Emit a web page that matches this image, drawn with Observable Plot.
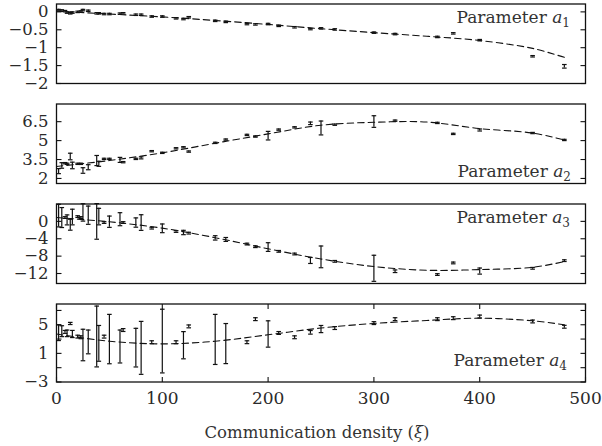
<!DOCTYPE html>
<html>
<head>
<meta charset="utf-8">
<script src="https://cdn.jsdelivr.net/npm/d3@7"></script>
<script src="https://cdn.jsdelivr.net/npm/@observablehq/plot@0.6"></script>
<style>
  html, body { margin: 0; padding: 0; background: #fff; }
  #chart svg { display: block; }
</style>
</head>
<body>
<div id="chart"></div>
<script>
// Communication density ξ at which each parameter was estimated
const xi = [2, 5, 8, 10, 13, 15, 20, 23, 25, 30, 38, 40, 45, 50, 60, 63, 75, 80, 90, 100,
            113, 120, 125, 150, 160, 180, 188, 200, 210, 225, 240, 250, 263, 300, 320, 360, 375, 400, 450, 480];

// Estimated parameters and their error half-widths
const a1 = [0.05, 0.04, 0.02, -0.02, -0.04, -0.02, 0.0, 0.01, 0.05, 0.03, -0.04, -0.04, -0.06, -0.06, -0.05, -0.04, -0.08, -0.08, -0.13, -0.13,
            -0.18, -0.2, -0.15, -0.25, -0.28, -0.34, -0.35, -0.34, -0.39, -0.43, -0.48, -0.46, -0.49, -0.58, -0.62, -0.70, -0.60, -0.79, -1.24, -1.52];
const a1Err = [0.02, 0.02, 0.02, 0.02, 0.02, 0.02, 0.02, 0.02, 0.02, 0.02, 0.02, 0.02, 0.02, 0.02, 0.02, 0.02, 0.02, 0.02, 0.02, 0.02,
               0.02, 0.02, 0.02, 0.02, 0.02, 0.02, 0.02, 0.02, 0.02, 0.02, 0.02, 0.02, 0.02, 0.02, 0.02, 0.02, 0.02, 0.02, 0.02, 0.05];

const a2 = [2.58, 3.03, 3.21, 3.16, 3.74, 3.03, 3.16, 3.16, 2.63, 2.89, 3.42, 3.16, 3.55, 3.55, 3.47, 3.29, 3.55, 3.63, 4.16, 4.03,
            4.39, 4.47, 4.13, 4.82, 5.08, 5.45, 5.32, 5.39, 5.87, 6.05, 6.37, 6.0, 6.26, 6.51, 6.58, 6.40, 5.53, 5.84, 5.6, 5.05];
const a2Err = [0.2, 0.22, 0.05, 0.05, 0.26, 0.26, 0.05, 0.05, 0.22, 0.2, 0.4, 0.2, 0.05, 0.05, 0.2, 0.05, 0.05, 0.08, 0.05, 0.05,
               0.05, 0.05, 0.05, 0.05, 0.05, 0.05, 0.05, 0.34, 0.05, 0.05, 0.1, 0.55, 0.05, 0.46, 0.05, 0.05, 0.05, 0.08, 0.05, 0.05];

const a3 = [1.33, 0.88, 0.88, 0.34, -0.77, 1.0, 1.1, 0.88, 2.06, 1.42, -0.01, 1.1, -0.27, -0.08, 0.5, -0.27, -0.27, -0.27, -1.56, -1.6,
            -2.33, -2.56, -2.71, -3.8, -4.16, -5.22, -5.83, -5.91, -6.9, -7.51, -9.0, -8.17, -9.2, -10.8, -11.48, -12.24, -9.57, -11.44, -10.8, -9.04];
const a3Err = [2.6, 2.3, 0.2, 1.15, 1.26, 1.8, 0.2, 0.2, 2.0, 2.1, 4.1, 1.9, 0.2, 1.3, 1.5, 0.2, 1.07, 1.8, 0.2, 1.0,
               0.2, 0.5, 0.2, 0.5, 0.45, 0.2, 0.2, 1.0, 0.2, 0.2, 0.69, 2.5, 0.2, 3.0, 0.3, 0.2, 0.2, 0.7, 0.2, 0.2];

const a4 = [3.89, 4.1, 4.0, 3.8, 5.18, 3.71, 3.34, 3.25, 2.17, 2.6, 3.36, 2.4, 3.34, 3.0, 1.96, 4.26, 1.8, 1.77, 2.56, 2.72,
            2.56, 2.14, 4.77, 2.95, 2.37, 2.56, 5.78, 3.71, 3.85, 3.25, 3.94, 4.4, 4.54, 5.23, 5.78, 5.78, 5.92, 6.15, 5.46, 4.72];
const a4Err = [1.1, 0.76, 0.2, 0.46, 0.15, 0.5, 0.2, 0.2, 2.2, 1.66, 4.25, 2.5, 0.2, 3.45, 2.3, 0.2, 2.7, 3.7, 0.2, 4.45,
               0.2, 1.9, 0.2, 3.5, 2.8, 0.2, 0.2, 1.84, 0.2, 0.2, 0.25, 0.5, 0.2, 0.2, 0.2, 0.2, 0.2, 0.2, 0.2, 0.2];

// Fitted trend curves (dashed)
const fitXi = [0, 50, 100, 150, 200, 250, 300, 350, 400, 450, 480];
const a1Fit = [0.02, -0.06, -0.14, -0.24, -0.35, -0.47, -0.58, -0.68, -0.80, -1.02, -1.27];
const a2Fit = [2.95, 3.42, 4.03, 4.79, 5.53, 6.22, 6.45, 6.47, 5.95, 5.6, 5.05];
const a3Fit = [0.88, -0.1, -1.56, -3.75, -6.3, -8.66, -10.4, -11.25, -11.1, -10.57, -9.27];
const a4Fit = [3.7, 2.7, 2.33, 2.7, 3.6, 4.54, 5.18, 5.6, 5.92, 5.55, 5.0];

// Axis ticks
const xTicks = [0, 100, 200, 300, 400, 500];
const a1Ticks = [0, -0.5, -1, -1.5, -2];
const a2Ticks = [6.5, 5, 3.5, 2];
const a3Ticks = [0, -4, -8, -12];
const a4Ticks = [7, 5, 3, 1, -1, -3];
const a4TickLabels = [5, 1, -3];

const serif = "'DejaVu Serif', 'Liberation Serif', serif";
const ink = "#111";
const textInk = "#2a2a2a";

// Short line symbols: error bar caps and inward tick marks
const line = (x0, y0, x1, y1) => ({draw(ctx) { ctx.moveTo(x0, y0); ctx.lineTo(x1, y1); }});
const cap = line(-2.3, 0, 2.3, 0);
const tickLeft = line(0, 0, 5, 0);
const tickRight = line(-5, 0, 0, 0);
const tickBottom = line(0, 0, 0, -5);
const tickTop = line(0, 0, 0, 5);

const fmt = d => (d < 0 ? "\u2212" : "") + Math.abs(d);

function panel({values, errors, fit, domain, ticks, labels, sub, labelX, labelY, bottom}) {
  const data = xi.map((x, i) => ({x, v: values[i], e: errors[i]}));
  const fitData = fitXi.map((x, i) => ({x, v: fit[i]}));
  const marks = [
    Plot.line(fitData, {x: "x", y: "v", curve: "catmull-rom", stroke: ink, strokeWidth: 1.1, strokeDasharray: "6.5,4"}),
    Plot.ruleX(data, {x: "x", y1: d => d.v - d.e, y2: d => d.v + d.e, stroke: ink, strokeWidth: 1.2}),
    Plot.dot(data, {x: "x", y: d => d.v - d.e, symbol: cap, stroke: ink, strokeWidth: 1.2, r: 2}),
    Plot.dot(data, {x: "x", y: d => d.v + d.e, symbol: cap, stroke: ink, strokeWidth: 1.2, r: 2}),
    Plot.dot(data, {x: "x", y: "v", symbol: "plus", fill: ink, r: 2.8}),
    Plot.dot(ticks, {x: () => 0, y: d => d, symbol: tickLeft, stroke: ink, strokeWidth: 1.1, r: 2}),
    Plot.dot(ticks, {x: () => 500, y: d => d, symbol: tickRight, stroke: ink, strokeWidth: 1.1, r: 2}),
    Plot.axisY({ticks: labels || ticks, tickSize: 0, tickPadding: 8, tickFormat: fmt, label: null, fontSize: 16.5, fill: textInk}),
    Plot.frame({stroke: ink, strokeWidth: 1.3})
  ];
  if (bottom) {
    marks.push(
      Plot.dot(xTicks, {x: d => d, y: () => domain[0], symbol: tickBottom, stroke: ink, strokeWidth: 1.1, r: 2}),
      Plot.dot(xTicks, {x: d => d, y: () => domain[1], symbol: tickTop, stroke: ink, strokeWidth: 1.1, r: 2}),
      Plot.axisX({ticks: xTicks, tickSize: 0, tickPadding: 10, label: null, fontSize: 17, fill: textInk})
    );
  } else {
    marks.push(Plot.axisX({ticks: [], label: null}));
  }
  const svg = Plot.plot({
    width: 602,
    height: bottom ? 146 : 100,
    marginLeft: 56,
    marginRight: 17,
    marginTop: 3.5,
    marginBottom: bottom ? 64.5 : 17,
    x: {domain: [0, 500]},
    y: {domain},
    style: {fontFamily: serif, fontSize: "17px", color: ink, background: "#fff"},
    marks
  });
  const t = d3.select(svg).append("text")
    .attr("x", labelX).attr("y", labelY)
    .attr("text-anchor", "end")
    .attr("font-family", serif).attr("font-size", 17).attr("fill", "#333");
  t.append("tspan").text("Parameter ");
  t.append("tspan").attr("font-style", "italic").text("a");
  t.append("tspan").attr("font-size", 12).attr("dy", 4).text(sub);
  if (bottom) {
    const title = d3.select(svg).append("text")
      .attr("x", 317).attr("y", 137.5)
      .attr("text-anchor", "middle")
      .attr("font-family", serif).attr("font-size", 16.5).attr("fill", "#333");
    title.append("tspan").text("Communication density (");
    title.append("tspan").attr("font-style", "italic").text("\u03be");
    title.append("tspan").text(")");
  }
  return svg;
}

const chart = document.getElementById("chart");
chart.append(panel({values: a1, errors: a1Err, fit: a1Fit, domain: [-2, 0.22], ticks: a1Ticks, sub: "1", labelX: 570, labelY: 22.5}));
chart.append(panel({values: a2, errors: a2Err, fit: a2Fit, domain: [1.6, 7.9], ticks: a2Ticks, sub: "2", labelX: 571, labelY: 77}));
chart.append(panel({values: a3, errors: a3Err, fit: a3Fit, domain: [-14.3, 4], ticks: a3Ticks, sub: "3", labelX: 570, labelY: 22.7}));
chart.append(panel({values: a4, errors: a4Err, fit: a4Fit, domain: [-3, 7.9], ticks: a4Ticks, labels: a4TickLabels, sub: "4", labelX: 567, labelY: 66, bottom: true}));
</script>
</body>
</html>
